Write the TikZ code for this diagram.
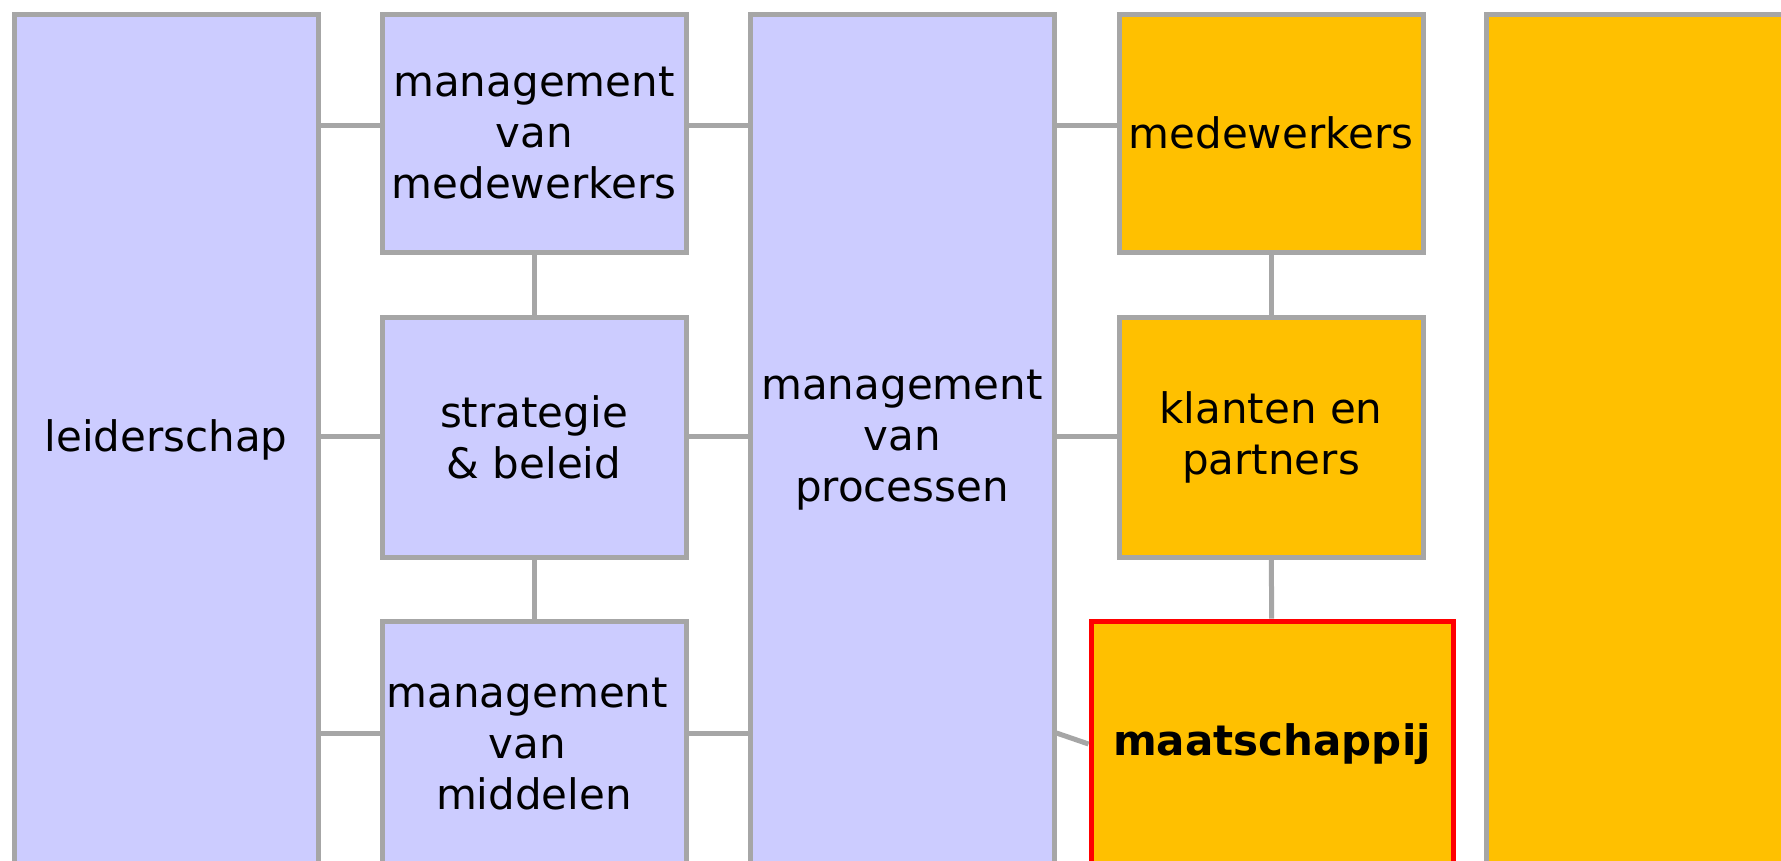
\documentclass[tikz,border=0pt]{standalone}
\usepackage{fontspec}
\setmainfont{DejaVu Sans}
\usepackage{tikz}
\usetikzlibrary{calc}

\definecolor{lavender}{HTML}{CCCCFF}
\definecolor{amber}{HTML}{FFC000}
\definecolor{edgegray}{HTML}{A6A6A6}

\begin{document}
\begin{tikzpicture}[x=1pt, y=-1pt,
    box/.style={rectangle, draw=edgegray, line width=5pt, align=center,
      inner sep=0pt, minimum width=304pt,
      font=\fontsize{42}{51}\selectfont},
    enabler/.style={box, fill=lavender},
    result/.style={box, fill=amber},
    link/.style={draw=edgegray, line width=5pt}]
  \useasboundingbox (0,0) rectangle (1781,860);

  % Connector heights
  \coordinate (r1) at (0,125);
  \coordinate (r2) at (0,436);
  \coordinate (r3) at (0,733);

  % Enablers
  \node[enabler, minimum height=852pt] (lead) at (166,440) {leiderschap};
  \node[enabler, minimum height=238pt] (mgmtstaff) at (534,133)
    {management\\van\\medewerkers};
  \node[enabler, minimum height=240pt] (strat) at (534,437)
    {strategie\\\& beleid};
  \node[enabler, minimum height=246pt] (mgmtres) at (534,744)
    {\mbox{management\ }\\\mbox{van\ }\\middelen};
  \node[enabler, minimum height=852pt] (mgmtproc) at (902,440)
    {management\\van\\processen};

  % Results
  \node[result, minimum height=238pt] (staff) at (1271,133) {medewerkers};
  \node[result, minimum height=240pt] (clients) at (1271,437)
    {klanten en\\partners};
  \node[result, draw=red, minimum width=362pt, minimum height=246pt]
    (society) at (1272,744) {\bfseries maatschappij};
  \node[result, minimum height=852pt] (results) at (1638,440) {};

  % Horizontal links
  \foreach \r/\n in {r1/mgmtstaff, r2/strat, r3/mgmtres} {
    \draw[link] (lead.east |- \r) -- (\n.west |- \r);
    \draw[link] (\n.east |- \r) -- (mgmtproc.west |- \r);
  }
  \draw[link] (mgmtproc.east |- r1) -- (staff.west |- r1);
  \draw[link] (mgmtproc.east |- r2) -- (clients.west |- r2);
  \draw[link] (mgmtproc.east |- r3) -- (society.west);

  % Vertical links
  \draw[link] (mgmtstaff) -- (strat);
  \draw[link] (strat) -- (mgmtres);
  \draw[link] (staff) -- (clients);
  \draw[link] (clients) -- (society);
\end{tikzpicture}
\end{document}
